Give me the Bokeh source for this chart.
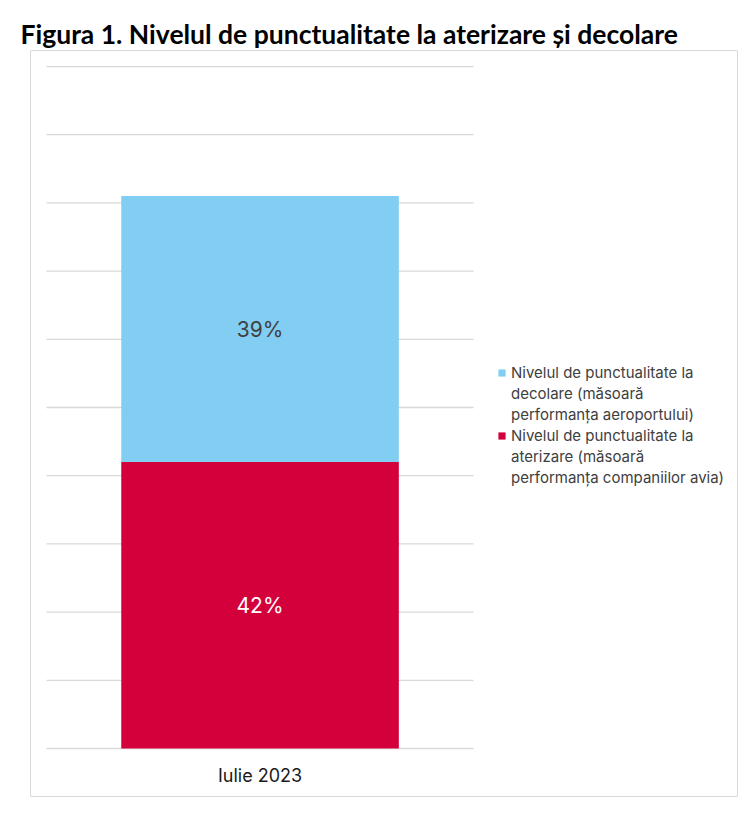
from bokeh.plotting import figure
from bokeh.models import Range1d, Legend, LegendItem
from bokeh.core.properties import value
from bokeh.embed import file_html
from bokeh.resources import INLINE

# ---- data ----
categories = ["Iulie 2023"]
aterizare = [42]   # Nivelul de punctualitate la aterizare (red, bottom)
decolare = [39]    # Nivelul de punctualitate la decolare (blue, top)
grid_values = [0, 10, 20, 30, 40, 50, 60, 70, 80, 90, 100]
legend_decolare = ["Nivelul de punctualitate la", "decolare (măsoară",
                   "performanța aeroportului)"]
legend_aterizare = ["Nivelul de punctualitate la", "aterizare (măsoară",
                    "performanța companiilor avia)"]
title_text = "Figura 1. Nivelul de punctualitate la aterizare și decolare"

RED = "#D4003C"
BLUE = "#82CEF2"
GRID = "#D9D9D9"

xs = [i + 0.5 for i in range(len(categories))]
tops2 = [a + d for a, d in zip(aterizare, decolare)]

p = figure(width=742, height=803, output_backend="svg", toolbar_location=None,
           x_axis_type=None, y_axis_type=None,
           x_range=Range1d(-0.0375, 1.618), y_range=Range1d(-7.04, 102.35),
           min_border_left=30, min_border_right=5, min_border_top=50,
           min_border_bottom=7)
p.outline_line_color = GRID
p.outline_line_width = 1
p.background_fill_color = "white"
p.border_fill_color = "white"

p.title.text = title_text
p.title.text_font = "Lato"
p.title.text_font_style = "bold"
p.title.text_font_size = "26.5px"
p.title.text_color = "black"
p.title.offset = -10
p.title.standoff = 2

# grid lines across the category span
p.segment(x0=[0] * len(grid_values), x1=[len(categories)] * len(grid_values),
          y0=grid_values, y1=grid_values, line_color=GRID, line_width=1.3)

r_red = p.vbar(x=xs, width=0.65, bottom=[0] * len(aterizare), top=aterizare,
               fill_color=RED, line_color=None)
r_blue = p.vbar(x=xs, width=0.65, bottom=aterizare, top=tops2,
                fill_color=BLUE, line_color=None)
# invisible renderer used for the continuation lines of the legend labels
r_blank = p.vbar(x=[], width=0.65, bottom=[], top=[],
                 fill_alpha=0, line_alpha=0)

# value labels
p.text(x=xs, y=[a / 2 for a in aterizare], text=[f"{v}%" for v in aterizare],
       text_font=value("Inter"), text_font_size="21px", text_color="white",
       text_align="center", text_baseline="middle")
p.text(x=xs, y=[a + d / 2 for a, d in zip(aterizare, decolare)],
       text=[f"{v}%" for v in decolare],
       text_font=value("Inter"), text_font_size="21px", text_color="#404040",
       text_align="center", text_baseline="middle")

# category label
p.text(x=xs, y=[0] * len(categories), text=categories, y_offset=27,
       text_font=value("Inter"), text_font_size="18px", text_color="#1A1A1A",
       text_align="center", text_baseline="middle")

items = []
for lines, r in ((legend_decolare, r_blue), (legend_aterizare, r_red)):
    items.append(LegendItem(label=lines[0], renderers=[r]))
    for ln in lines[1:]:
        items.append(LegendItem(label=ln, renderers=[r_blank]))

legend = Legend(items=items, location=(467, 308))
legend.label_text_font = "Inter"
legend.label_text_font_size = "15px"
legend.label_text_color = "#404040"
legend.glyph_width = 9
legend.glyph_height = 9
legend.label_height = 21
legend.label_standoff = 5
legend.spacing = 0
legend.padding = 0
legend.margin = 0
legend.border_line_color = None
legend.background_fill_alpha = 0
p.add_layout(legend)

open("out.html", "w").write(file_html(p, INLINE))
